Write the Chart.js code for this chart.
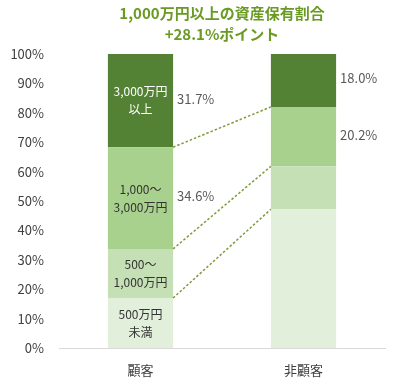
<!DOCTYPE html>
<html>
<head>
<meta charset="utf-8">
<script src="https://cdn.jsdelivr.net/npm/chart.js@4"></script>
<style>
  html, body { margin: 0; padding: 0; background: #fff; }
  #wrap { width: 400px; height: 379px; position: relative; }
</style>
</head>
<body>
<div id="wrap"><canvas id="chart"></canvas></div>
<script>
const categories = ['顧客', '非顧客'];
const segmentNames = [['500万円', '未満'], ['500～', '1,000万円'], ['1,000～', '3,000万円'], ['3,000万円', '以上']];
const customerShares = [17.0, 16.7, 34.6, 31.7];
const nonCustomerShares = [47.2, 14.6, 20.2, 18.0];
const segmentColors = ['#E2EFDA', '#C5E0B4', '#A9D18E', '#548235'];
const titleLines = ['1,000万円以上の資産保有割合', '+28.1%ポイント'];

const FONT = "'Noto Sans CJK JP', 'Noto Sans', sans-serif";

const datasets = segmentNames.map((name, i) => ({
    label: name.join(''),
    data: [customerShares[i], nonCustomerShares[i]],
    backgroundColor: segmentColors[i],
    borderWidth: 0,
    barPercentage: 0.4,
    categoryPercentage: 1,
}));

// dashed connectors + labels drawn from bar elements
const segmentLabels = {
    id: 'segmentLabels',
    afterDatasetsDraw(chart) {
        const c = chart.ctx;
        const metas = chart.data.datasets.map((d, i) => chart.getDatasetMeta(i));

        c.save();
        c.strokeStyle = '#7F9A3A';
        c.lineWidth = 1.5;
        c.setLineDash([2.5, 2]);
        for (let i = 0; i < 3; i++) {
            const a = metas[i].data[0], b = metas[i].data[1];
            c.beginPath();
            c.moveTo(a.x + a.width / 2, a.y);
            c.lineTo(b.x - b.width / 2, b.y);
            c.stroke();
        }
        c.restore();

        c.save();
        c.textAlign = 'center';
        c.textBaseline = 'middle';
        c.font = '12px ' + FONT;
        metas.forEach((meta, i) => {
            const bar = meta.data[0];
            const mid = (bar.y + bar.base) / 2;
            c.fillStyle = i === 3 ? '#ffffff' : '#333333';
            const lines = segmentNames[i];
            c.fillText(lines[0], bar.x, mid - 9);
            c.fillText(lines[1], bar.x, mid + 9);
        });

        c.textAlign = 'left';
        c.font = '13px ' + FONT;
        c.fillStyle = '#595959';
        for (let i = 2; i < 4; i++) {
            [customerShares, nonCustomerShares].forEach((vals, j) => {
                const bar = metas[i].data[j];
                const mid = (bar.y + bar.base) / 2;
                c.fillText(vals[i].toFixed(1) + '%', bar.x + bar.width / 2 + 4, mid - 2);
            });
        }
        c.restore();
    }
};

new Chart(document.getElementById('chart'), {
    type: 'bar',
    data: { labels: categories, datasets },
    options: {
        animation: false,
        responsive: true,
        maintainAspectRatio: false,
        layout: { padding: { left: 0, right: 15, top: 3, bottom: 0 } },
        plugins: {
            legend: { display: false },
            tooltip: { enabled: false },
            title: {
                display: true,
                fullSize: false,
                text: titleLines,
                color: '#6A9A23',
                font: { family: FONT, size: 15, weight: 'bold', lineHeight: 1.4 },
                padding: { top: 0, bottom: 9 },
            },
        },
        scales: {
            x: {
                stacked: true,
                grid: { display: false, drawTicks: false },
                border: { display: true, color: '#D9D9D9', width: 1 },
                afterFit: (s) => { s.height = 31; },
                ticks: { color: '#404040', font: { family: FONT, size: 13 }, padding: 14 },
            },
            y: {
                stacked: true,
                min: 0,
                max: 100,
                grid: { display: false, drawTicks: false },
                border: { display: false },
                afterFit: (s) => { s.width = 59; },
                ticks: {
                    stepSize: 10,
                    color: '#404040',
                    font: { family: FONT, size: 13 },
                    padding: 15,
                    callback: (v) => v + '%',
                },
            },
        },
    },
    plugins: [segmentLabels],
});
</script>
</body>
</html>
